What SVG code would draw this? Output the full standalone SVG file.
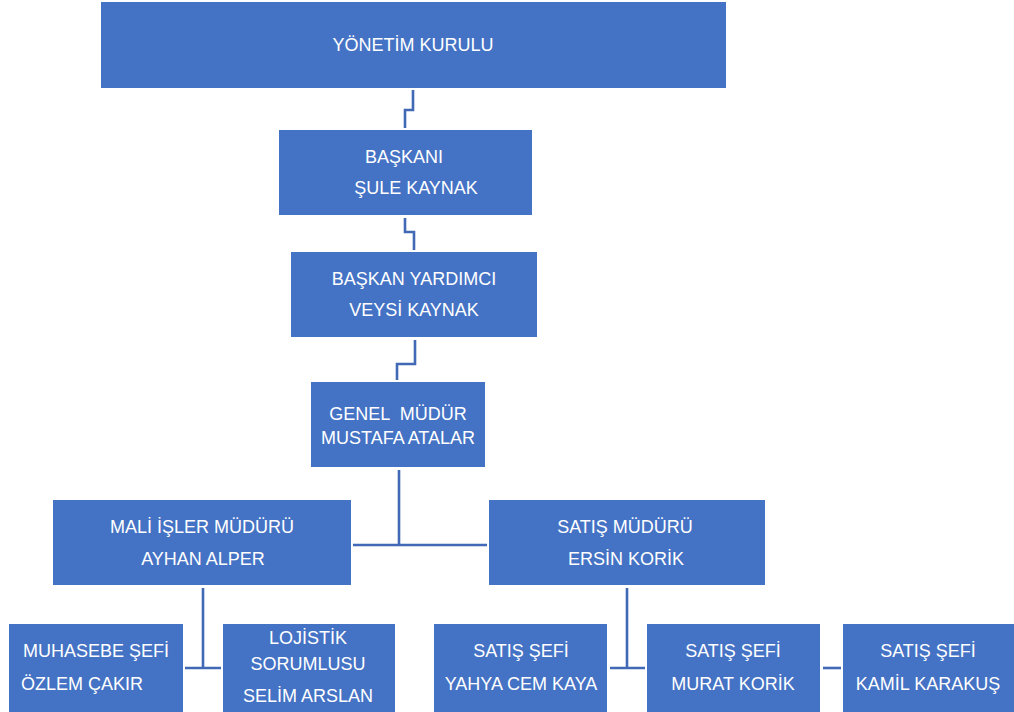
<svg xmlns="http://www.w3.org/2000/svg" width="1014" height="712" viewBox="0 0 1014 712">
<style>
.box{fill:#4472C4;}
.t{fill:#FFFFFF;font-family:"Liberation Sans",Arial,sans-serif;font-size:18px;text-anchor:middle;}
.c{fill:none;stroke:#4169B5;stroke-width:2.6;}
</style>
<rect width="1014" height="712" fill="#FFFFFF"/>
<g id="connectors">
<path class="c" d="M413,90 V110 H405 V128"/>
<path class="c" d="M405,218 V232 H414 V250"/>
<path class="c" d="M415,340 V364 H397 V380"/>
<path class="c" d="M399,470 V545 M353,545 H487"/>
<path class="c" d="M203,588 V668 M185,668 H221"/>
<path class="c" d="M627,588 V668 M610,668 H645"/>
<path class="c" d="M823,668 H841"/>
</g>
<g id="n1"><rect class="box" x="101" y="2" width="625" height="86"/><text class="t" x="413" y="51">YÖNETİM KURULU</text></g>
<g id="n2"><rect class="box" x="279" y="130" width="253" height="85"/><text class="t" x="404" y="163">BAŞKANI</text><text class="t" x="416" y="194">ŞULE KAYNAK</text></g>
<g id="n3"><rect class="box" x="291" y="252" width="246" height="85"/><text class="t" x="414" y="285">BAŞKAN YARDIMCI</text><text class="t" x="414" y="316">VEYSİ KAYNAK</text></g>
<g id="n4"><rect class="box" x="311" y="382" width="174" height="85"/><text class="t" x="398" y="420" xml:space="preserve">GENEL  MÜDÜR</text><text class="t" x="398" y="444">MUSTAFA ATALAR</text></g>
<g id="n5"><rect class="box" x="53" y="500" width="298" height="85"/><text class="t" x="202" y="533">MALİ İŞLER MÜDÜRÜ</text><text class="t" x="203" y="565">AYHAN ALPER</text></g>
<g id="n6"><rect class="box" x="489" y="500" width="276" height="85"/><text class="t" x="625" y="533">SATIŞ MÜDÜRÜ</text><text class="t" x="626" y="565">ERSİN KORİK</text></g>
<g id="n7"><rect class="box" x="9" y="624" width="174" height="88"/><text class="t" x="96" y="657">MUHASEBE ŞEFİ</text><text class="t" x="82" y="690">ÖZLEM ÇAKIR</text></g>
<g id="n8"><rect class="box" x="223" y="624" width="172" height="88"/><text class="t" x="308" y="644">LOJİSTİK</text><text class="t" x="308" y="670">SORUMLUSU</text><text class="t" x="308" y="702">SELİM ARSLAN</text></g>
<g id="n9"><rect class="box" x="434" y="624" width="173" height="88"/><text class="t" x="521" y="657">SATIŞ ŞEFİ</text><text class="t" x="521" y="690">YAHYA CEM KAYA</text></g>
<g id="n10"><rect class="box" x="647" y="624" width="173" height="88"/><text class="t" x="733" y="657">SATIŞ ŞEFİ</text><text class="t" x="733" y="690">MURAT KORİK</text></g>
<g id="n11"><rect class="box" x="843" y="624" width="171" height="88"/><text class="t" x="928" y="657">SATIŞ ŞEFİ</text><text class="t" x="928" y="690">KAMİL KARAKUŞ</text></g>
</svg>
